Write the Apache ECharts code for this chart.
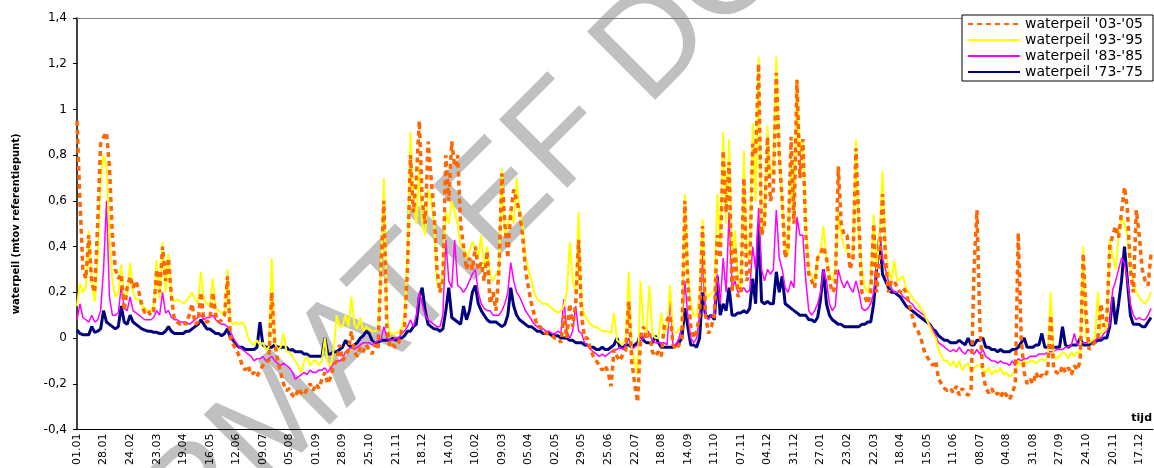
<!DOCTYPE html>
<html>
<head>
<meta charset="utf-8">
<script src="https://cdn.jsdelivr.net/npm/echarts@6/dist/echarts.min.js"></script>
<style>
  html, body { margin: 0; padding: 0; background: #fff; }
  #chart { width: 1154px; height: 468px; }
</style>
</head>
<body>
<div id="chart"></div>
<script>
// one value every 3 days, 9 values per 27-day tick
const STEP = 3

const tickLabels = [
  '01.01', '28.01', '24.02', '23.03', '19.04', '16.05', '12.06', '09.07', '05.08', '01.09',
  '28.09', '25.10', '21.11', '18.12', '14.01', '10.02', '09.03', '05.04', '02.05', '29.05',
  '25.06', '22.07', '18.08', '14.09', '11.10', '07.11', '04.12', '31.12', '27.01', '23.02',
  '22.03', '18.04', '15.05', '11.06', '08.07', '04.08', '31.08', '27.09', '24.10', '20.11',
  '17.12'
]

const peil0305 = [
  0.95, 0.6, 0.3, 0.26, 0.45, 0.24, 0.2, 0.5, 0.85,
  0.88, 0.9, 0.75, 0.45, 0.3, 0.26, 0.28, 0.12, 0.22,
  0.27, 0.22, 0.25, 0.2, 0.14, 0.11, 0.12, 0.1, 0.12,
  0.3, 0.2, 0.4, 0.25, 0.35, 0.18, 0.08, 0.07, 0.06,
  0.07, 0.06, 0.1, 0.15, 0.06, 0.07, 0.2, 0.08, 0.07,
  0.08, 0.2, 0.1, 0.07, 0.08, 0.1, 0.27, 0.0, -0.03,
  -0.05, -0.08, -0.12, -0.14, -0.12, -0.16, -0.15, -0.17, -0.14,
  -0.12, -0.1, -0.1, 0.2, -0.02, -0.1, -0.15, -0.2, -0.23,
  -0.22, -0.25, -0.26, -0.22, -0.24, -0.25, -0.22, -0.2, -0.23,
  -0.2, -0.22, -0.18, -0.15, -0.2, -0.17, -0.12, -0.1, -0.03,
  -0.1, -0.08, -0.05, 0.03, -0.06, -0.08, -0.04, -0.06, -0.03,
  -0.05, -0.07, -0.03, -0.05, 0.3, 0.6, 0.05, -0.04, -0.03,
  -0.04, -0.02, 0.03, 0.05, 0.3, 0.8, 0.55, 0.7, 0.95,
  0.6, 0.5, 0.86, 0.7, 0.55, 0.3, 0.2, 0.25, 0.8,
  0.6, 0.86, 0.75, 0.8, 0.5, 0.4, 0.3, 0.35, 0.3,
  0.4, 0.3, 0.33, 0.25, 0.38, 0.15, 0.2, 0.12, 0.3,
  0.72, 0.5, 0.35, 0.55, 0.65, 0.6, 0.55, 0.45, 0.3,
  0.22, 0.15, 0.1, 0.05, 0.05, 0.03, 0.02, 0.02, 0.01,
  0.0, 0.0, -0.02, 0.1, 0.0, 0.15, 0.05, 0.15, 0.43,
  0.1, 0.0, 0.0, -0.05, -0.08, -0.1, -0.12, -0.14, -0.12,
  -0.15, -0.21, -0.05, -0.08, -0.1, -0.07, -0.05, 0.16, -0.1,
  -0.2, -0.28, 0.0, 0.05, 0.0, 0.02, -0.06, -0.08, -0.06,
  -0.08, 0.05, 0.08, 0.1, -0.03, -0.05, -0.03, 0.0, 0.6,
  0.25, 0.05, 0.0, 0.03, 0.1, 0.49, 0.1, 0.02, 0.05,
  0.1, 0.45, 0.35, 0.82, 0.55, 0.77, 0.2, 0.4, 0.18,
  0.2, 0.7, 0.25, 0.3, 0.85, 0.8, 1.2, 0.45, 0.5,
  0.88, 0.6, 0.65, 1.16, 0.8, 0.6, 0.35, 0.4, 0.88,
  0.5, 1.13, 0.7, 0.87, 0.45, 0.28, 0.25, 0.22, 0.35,
  0.37, 0.4, 0.35, 0.25, 0.2, 0.22, 0.75, 0.5, 0.45,
  0.45, 0.3, 0.35, 0.83, 0.5, 0.2, 0.18, 0.15, 0.2,
  0.5, 0.2, 0.35, 0.63, 0.35, 0.2, 0.25, 0.25, 0.22,
  0.2, 0.22, 0.2, 0.15, 0.1, 0.05, 0.03, 0.0, -0.05,
  -0.08, -0.1, -0.12, -0.1, -0.18, -0.2, -0.22, -0.23, -0.22,
  -0.24, -0.21, -0.25, -0.22, -0.24, -0.25, -0.23, 0.3, 0.56,
  0.05, -0.15, -0.22, -0.24, -0.22, -0.25, -0.24, -0.26, -0.23,
  -0.25, -0.27, -0.24, -0.2, 0.46, 0.0, -0.15, -0.2, -0.18,
  -0.2, -0.15, -0.18, -0.16, -0.17, -0.14, 0.1, -0.14, -0.15,
  -0.16, -0.12, -0.15, -0.13, -0.16, -0.12, -0.14, -0.1, 0.37,
  0.1, -0.05, -0.03, -0.02, 0.0, 0.15, 0.05, 0.08, 0.4,
  0.45, 0.49, 0.44, 0.55, 0.66, 0.56, 0.3, 0.2, 0.56,
  0.45, 0.3, 0.25, 0.23, 0.37
]

const peil9395 = [
  0.14, 0.24, 0.2, 0.22, 0.47, 0.24, 0.16, 0.35, 0.7,
  0.8, 0.75, 0.45, 0.25, 0.18, 0.2, 0.32, 0.17, 0.2,
  0.33, 0.2, 0.17, 0.17, 0.14, 0.13, 0.12, 0.12, 0.14,
  0.34, 0.17, 0.42, 0.2, 0.37, 0.18, 0.16, 0.17, 0.16,
  0.15, 0.16, 0.18, 0.2, 0.17, 0.15, 0.29, 0.17, 0.15,
  0.14, 0.26, 0.13, 0.12, 0.11, 0.1, 0.3, 0.07, 0.06,
  0.07, 0.06, 0.07, 0.05, 0.0, -0.02, -0.03, -0.01, -0.03,
  -0.02, -0.05, -0.04, 0.35, -0.02, -0.05, -0.04, 0.02, -0.06,
  -0.06, -0.08, -0.1, -0.12, -0.15, -0.1, -0.08, -0.12, -0.1,
  -0.1, -0.12, -0.1, 0.0, -0.11, -0.12, -0.05, 0.1, 0.05,
  0.05, 0.1, 0.05, 0.18, 0.06, 0.04, 0.09, 0.03, 0.05,
  0.04, 0.03, 0.03, 0.04, 0.3, 0.7, 0.1, 0.02, 0.02,
  0.02, 0.03, 0.04, 0.1, 0.35, 0.9, 0.6, 0.5, 0.75,
  0.5, 0.45, 0.65, 0.6, 0.5, 0.25, 0.2, 0.3, 0.55,
  0.5, 0.6, 0.55, 0.5, 0.4, 0.4, 0.35, 0.38, 0.42,
  0.4, 0.35, 0.45, 0.3, 0.4, 0.28, 0.25, 0.28, 0.3,
  0.74, 0.45, 0.5, 0.55, 0.5, 0.7, 0.55, 0.5, 0.35,
  0.3, 0.25, 0.2, 0.17, 0.16, 0.15, 0.15, 0.14, 0.13,
  0.12, 0.11, 0.12, 0.14, 0.2, 0.42, 0.25, 0.2, 0.55,
  0.15, 0.1, 0.08, 0.06, 0.05, 0.05, 0.04, 0.03, 0.03,
  0.03, 0.02, 0.11, -0.01, -0.02, -0.03, 0.0, 0.29, -0.05,
  -0.1, -0.16, 0.25, 0.05, 0.02, 0.23, 0.02, 0.0, 0.0,
  0.11, 0.02, 0.05, 0.23, 0.03, 0.02, 0.04, 0.05, 0.63,
  0.3, 0.15, 0.1, 0.1, 0.2, 0.52, 0.2, 0.18, 0.2,
  0.2, 0.63, 0.4, 0.9, 0.5, 0.87, 0.35, 0.47, 0.25,
  0.2, 0.82, 0.35, 0.35, 0.94, 0.6, 1.23, 0.45, 0.5,
  0.93, 0.7, 0.75, 1.23, 0.8, 0.6, 0.4, 0.36, 0.8,
  0.5, 1.13, 0.8, 0.87, 0.5, 0.3, 0.27, 0.25, 0.35,
  0.38, 0.49, 0.35, 0.28, 0.25, 0.3, 0.55, 0.45, 0.4,
  0.38, 0.35, 0.35, 0.87, 0.45, 0.3, 0.22, 0.2, 0.25,
  0.54, 0.3, 0.45, 0.73, 0.4, 0.3, 0.25, 0.34, 0.25,
  0.26, 0.27, 0.22, 0.2, 0.18, 0.16, 0.15, 0.13, 0.11,
  0.08, 0.05, 0.02, 0.0, -0.05, -0.08, -0.1, -0.1, -0.12,
  -0.1, -0.13, -0.1, -0.14, -0.12, -0.11, -0.15, -0.13, -0.12,
  -0.12, -0.14, -0.15, -0.13, -0.16, -0.14, -0.15, -0.13, -0.16,
  -0.15, -0.17, -0.16, -0.14, -0.1, -0.12, -0.1, -0.11, -0.1,
  -0.1, -0.11, -0.1, -0.09, -0.1, -0.08, 0.2, -0.08, -0.09,
  -0.08, -0.06, -0.07, -0.09, -0.06, -0.08, -0.06, -0.07, 0.4,
  0.0, -0.02, -0.01, 0.0, 0.2, 0.02, 0.03, 0.05, 0.43,
  0.36, 0.3, 0.45, 0.53, 0.5, 0.45, 0.3, 0.25, 0.2,
  0.18, 0.16, 0.15, 0.17, 0.2
]

const peil8385 = [
  0.08, 0.15, 0.09, 0.08, 0.07, 0.1, 0.07, 0.08, 0.12,
  0.3, 0.6, 0.18, 0.1, 0.1, 0.11, 0.23, 0.13, 0.12,
  0.18, 0.12, 0.11, 0.1, 0.09, 0.08, 0.08, 0.08, 0.09,
  0.12, 0.1, 0.2, 0.11, 0.12, 0.09, 0.08, 0.08, 0.07,
  0.07, 0.07, 0.06, 0.07, 0.08, 0.09, 0.1, 0.08, 0.09,
  0.09, 0.1, 0.08, 0.07, 0.06, 0.06, 0.05, 0.03, 0.0,
  -0.02, -0.04, -0.05, -0.06, -0.07, -0.08, -0.1, -0.09, -0.09,
  -0.08, -0.1, -0.09, -0.08, -0.1, -0.11, -0.12, -0.11, -0.12,
  -0.13, -0.15, -0.18, -0.17, -0.16, -0.15, -0.16, -0.14, -0.15,
  -0.15, -0.14, -0.14, -0.13, -0.15, -0.13, -0.11, -0.1, -0.1,
  -0.09, -0.06, -0.05, -0.04, -0.05, -0.04, -0.03, -0.02, -0.02,
  -0.02, -0.03, -0.02, -0.01, -0.01, 0.05, 0.0, -0.01, -0.01,
  0.0, 0.0, 0.02, 0.03, 0.05, 0.08, 0.05, 0.1, 0.2,
  0.15, 0.1, 0.08, 0.07, 0.06, 0.05, 0.05, 0.1, 0.43,
  0.25, 0.22, 0.43, 0.23, 0.22, 0.2, 0.22, 0.25, 0.28,
  0.3, 0.2, 0.15, 0.13, 0.12, 0.12, 0.1, 0.1, 0.1,
  0.12, 0.15, 0.2, 0.33, 0.25, 0.2, 0.18, 0.15, 0.12,
  0.1, 0.08, 0.06, 0.05, 0.04, 0.04, 0.03, 0.03, 0.02,
  0.02, 0.03, 0.02, 0.17, 0.03, 0.0, 0.03, 0.14, 0.03,
  0.02, -0.02, -0.03, -0.05, -0.06, -0.07, -0.08, -0.07, -0.08,
  -0.07, -0.06, -0.05, -0.05, -0.04, -0.05, -0.03, 0.0, -0.05,
  -0.04, -0.03, -0.01, 0.0, 0.04, 0.02, -0.01, -0.02, -0.02,
  -0.02, -0.02, -0.03, 0.18, -0.03, -0.03, 0.0, 0.05, 0.25,
  0.1, 0.0, -0.02, 0.0, 0.1, 0.36, 0.1, 0.08, 0.1,
  0.1, 0.28, 0.15, 0.35, 0.2, 0.55, 0.22, 0.25, 0.2,
  0.21, 0.22, 0.2, 0.21, 0.4, 0.3, 0.57, 0.3, 0.25,
  0.3, 0.28, 0.3, 0.56, 0.35, 0.3, 0.22, 0.2, 0.25,
  0.22, 0.53, 0.45, 0.45, 0.25, 0.12, 0.1, 0.12, 0.15,
  0.2, 0.3, 0.25, 0.15, 0.12, 0.14, 0.3, 0.25, 0.22,
  0.25, 0.22, 0.2, 0.25, 0.2, 0.13, 0.12, 0.13, 0.15,
  0.2, 0.3, 0.46, 0.35, 0.3, 0.25, 0.22, 0.2, 0.2,
  0.2, 0.18, 0.17, 0.16, 0.15, 0.13, 0.12, 0.11, 0.1,
  0.08, 0.06, 0.04, 0.01, -0.02, -0.03, -0.04, -0.05, -0.06,
  -0.05, -0.06, -0.04, -0.06, -0.07, -0.05, -0.06, -0.07, -0.05,
  -0.07, -0.05, -0.08, -0.09, -0.1, -0.1, -0.11, -0.1, -0.11,
  -0.11, -0.12, -0.1, -0.12, -0.09, -0.1, -0.09, -0.09, -0.08,
  -0.08, -0.08, -0.07, -0.07, -0.07, -0.06, -0.06, -0.06, -0.05,
  -0.05, -0.05, -0.04, -0.04, -0.03, 0.02, -0.03, -0.02, -0.02,
  -0.02, -0.02, -0.01, -0.01, 0.0, 0.0, 0.02, 0.03, 0.06,
  0.21, 0.25, 0.3, 0.35, 0.33, 0.25, 0.15, 0.1, 0.08,
  0.09, 0.08, 0.08, 0.1, 0.13
]

const peil7375 = [
  0.035, 0.02, 0.015, 0.015, 0.015, 0.05, 0.025, 0.03, 0.04,
  0.12, 0.07, 0.06, 0.05, 0.04, 0.05, 0.14, 0.07, 0.06,
  0.1, 0.07, 0.06, 0.05, 0.04, 0.035, 0.03, 0.03, 0.025,
  0.025, 0.02, 0.02, 0.03, 0.05, 0.03, 0.02, 0.02, 0.02,
  0.02, 0.03, 0.03, 0.04, 0.05, 0.06, 0.08, 0.06, 0.04,
  0.04, 0.03, 0.02, 0.02, 0.01, 0.02, 0.04, 0.0, -0.01,
  -0.03, -0.04, -0.04, -0.05, -0.05, -0.05, -0.05, -0.04, 0.07,
  -0.03, -0.04, -0.04, -0.04, -0.03, -0.04, -0.04, -0.04, -0.04,
  -0.055, -0.05, -0.06, -0.06, -0.06, -0.07, -0.07, -0.08, -0.08,
  -0.08, -0.08, -0.08, 0.0, -0.07, -0.07, -0.06, -0.06, -0.05,
  -0.04, -0.01, -0.03, -0.04, -0.03, -0.02, 0.0, 0.01, 0.03,
  0.02, -0.01, -0.02, -0.02, -0.01, -0.01, -0.01, -0.01, 0.0,
  -0.01, 0.0, 0.0, 0.01, 0.03, 0.03, 0.05, 0.06, 0.18,
  0.22, 0.12, 0.06, 0.05, 0.04, 0.04, 0.03, 0.04, 0.12,
  0.22, 0.09, 0.08, 0.07, 0.06, 0.14, 0.08, 0.12, 0.2,
  0.23, 0.15, 0.12, 0.1, 0.08, 0.07, 0.07, 0.07, 0.06,
  0.05, 0.06, 0.1, 0.22, 0.14, 0.1, 0.08, 0.07, 0.06,
  0.05, 0.05, 0.04, 0.03, 0.03, 0.02, 0.02, 0.02, 0.01,
  0.01, 0.01, 0.0, 0.0, 0.0, -0.01, -0.01, -0.02, -0.02,
  -0.02, -0.03, -0.03, -0.04, -0.04, -0.05, -0.05, -0.04, -0.05,
  -0.05, -0.04, -0.03, 0.0, -0.04, -0.04, -0.03, -0.03, -0.04,
  -0.03, -0.02, 0.02, -0.01, -0.02, -0.02, -0.02, 0.01, -0.02,
  -0.04, -0.04, -0.04, -0.04, -0.04, -0.03, -0.02, 0.0, 0.13,
  0.05, -0.03, -0.03, -0.04, 0.0, 0.2, 0.1, 0.09, 0.1,
  0.08, 0.27, 0.1, 0.15, 0.12, 0.22, 0.1, 0.1, 0.11,
  0.11, 0.12, 0.11, 0.13, 0.26, 0.15, 0.5, 0.16, 0.15,
  0.16, 0.15, 0.15, 0.29, 0.2, 0.27, 0.15, 0.14, 0.13,
  0.12, 0.11, 0.1, 0.1, 0.1, 0.08, 0.08, 0.07, 0.09,
  0.17, 0.3, 0.15, 0.1, 0.08, 0.07, 0.06, 0.06, 0.05,
  0.05, 0.05, 0.05, 0.05, 0.05, 0.06, 0.06, 0.07, 0.07,
  0.15, 0.3, 0.44, 0.28, 0.25, 0.22, 0.2, 0.2, 0.19,
  0.18, 0.16, 0.14, 0.13, 0.12, 0.11, 0.1, 0.09, 0.08,
  0.07, 0.06, 0.04, 0.03, 0.01, 0.0, -0.01, -0.01, -0.02,
  -0.02, -0.02, -0.01, -0.02, -0.03, 0.0, -0.03, -0.03, -0.01,
  -0.01, 0.0, -0.04, -0.04, -0.05, -0.05, -0.06, -0.05, -0.06,
  -0.06, -0.06, -0.05, -0.05, -0.04, -0.02, 0.0, -0.04, -0.04,
  -0.04, -0.03, -0.03, 0.02, -0.04, -0.04, -0.04, -0.04, -0.04,
  -0.04, 0.05, -0.03, -0.04, -0.03, -0.03, -0.03, 0.0, -0.03,
  -0.03, -0.03, -0.02, -0.02, -0.01, -0.01, 0.0, 0.0, 0.05,
  0.18, 0.06, 0.15, 0.25, 0.4, 0.25, 0.1, 0.06, 0.06,
  0.06, 0.05, 0.05, 0.07, 0.09
]

const names = ["waterpeil '03-'05", "waterpeil '93-'95", "waterpeil '83-'85", "waterpeil '73-'75"]

const font = '"DejaVu Sans", Verdana, sans-serif'

function toPoints(values) {
  return values.map((v, i) => [i * STEP, v])
}

const chart = echarts.init(document.getElementById('chart'))

const option = {
  animation: false,
  backgroundColor: '#fff',
  textStyle: { fontFamily: font },
  grid: { left: 77, right: 1, top: 18, bottom: 36 },
  legend: {
    data: names,
    orient: 'vertical',
    right: 1,
    top: 15,
    itemWidth: 52,
    itemHeight: 14,
    itemGap: 2,
    padding: [2, 10, 2, 5],
    backgroundColor: '#fff',
    borderColor: '#000',
    borderWidth: 1,
    borderRadius: 0,
    itemStyle: { opacity: 0 },
    textStyle: { fontSize: 14, color: '#000', fontFamily: font }
  },
  xAxis: [
    {
      type: 'value',
      min: 0,
      max: 1094,
      interval: 27,
      splitLine: { show: false },
      axisTick: { show: false },
      axisLine: { onZero: false, lineStyle: { color: '#000', width: 1 } },
      axisLabel: {
        rotate: 90,
        fontSize: 11,
        color: '#000',
        margin: 4,
        showMaxLabel: false,
        formatter: v => (v % 27 === 0 ? tickLabels[v / 27] || '' : '')
      }
    },
    {
      type: 'value',
      position: 'top',
      min: 0,
      max: 1094,
      axisLine: { show: true, onZero: false, lineStyle: { color: '#808080', width: 1 } },
      axisTick: { show: false },
      axisLabel: { show: false },
      splitLine: { show: false }
    }
  ],
  yAxis: {
    type: 'value',
    min: -0.4,
    max: 1.4,
    interval: 0.2,
    name: 'waterpeil (mtov referentiepunt)',
    nameLocation: 'middle',
    nameGap: 56,
    nameTextStyle: { fontSize: 10, fontWeight: 'bold', color: '#000' },
    splitLine: { show: false },
    axisLine: { show: true, lineStyle: { color: '#000', width: 1.5 } },
    axisTick: { show: true, length: 4, lineStyle: { color: '#000' } },
    axisLabel: {
      fontSize: 12,
      color: '#000',
      margin: 10,
      formatter: v => String(Math.round(v * 10) / 10).replace('.', ',')
    }
  },
  graphic: [
    {
      // grey watermark behind the lines
      type: 'text',
      x: 560,
      y: 140,
      rotation: 45 * Math.PI / 180,
      z: 0,
      silent: true,
      style: {
        text: 'INFORMATIEF DOCUMENT',
        font: '140px "Liberation Sans", Arial, sans-serif',
        fill: '#c0c0c0',
        align: 'center',
        verticalAlign: 'middle'
      }
    },
    {
      type: 'text',
      right: 2,
      top: 413,
      z: 10,
      style: {
        text: 'tijd',
        font: 'bold 11px ' + font,
        fill: '#000'
      }
    }
  ],
  series: [
    {
      name: names[3],
      type: 'line',
      data: toPoints(peil7375),
      symbol: 'none',
      color: '#000080',
      lineStyle: { color: '#000080', width: 3 }
    },
    {
      name: names[2],
      type: 'line',
      data: toPoints(peil8385),
      symbol: 'none',
      color: '#ff00ff',
      lineStyle: { color: '#ff00ff', width: 1.5 }
    },
    {
      name: names[1],
      type: 'line',
      data: toPoints(peil9395),
      symbol: 'none',
      color: '#ffff00',
      lineStyle: { color: '#ffff00', width: 2 }
    },
    {
      name: names[0],
      type: 'line',
      data: toPoints(peil0305),
      symbol: 'none',
      color: '#ff6600',
      lineStyle: { color: '#ff6600', width: 3.5, type: [5, 4] }
    }
  ]
}

chart.setOption(option)
</script>
</body>
</html>
